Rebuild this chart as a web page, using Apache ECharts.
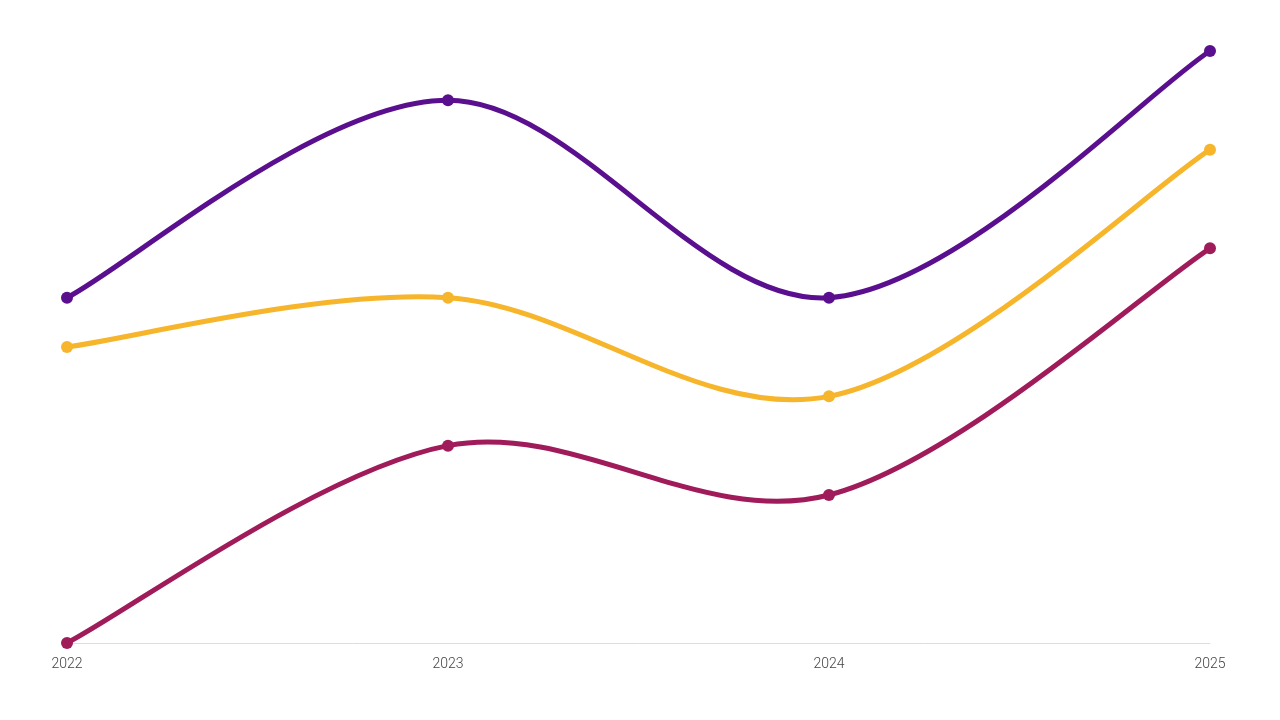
<!DOCTYPE html>
<html>
<head>
<meta charset="utf-8">
<script src="https://cdn.jsdelivr.net/npm/echarts@6/dist/echarts.min.js"></script>
<style>html,body{margin:0;padding:0;background:#fff}#c{width:1280px;height:720px}</style>
</head>
<body>
<div id="c"></div>
<script>
const categories = ['2022', '2023', '2024', '2025'];
const seriesA = [7, 11, 7, 12];
const seriesB = [6, 7, 5, 10];
const seriesC = [0, 4, 3, 8];
const colors = ['#5a0f8f', '#f6b52b', '#a01b5a'];

const chart = echarts.init(document.getElementById('c'));

// Catmull-Rom (cardinal, tension 0) curve through the points, via the axes' scales
function curveSeries(values, color) {
  return {
    type: 'custom',
    coordinateSystem: 'cartesian2d',
    data: [[0, values[0]]],
    clip: false,
    silent: true,
    z: 2,
    renderItem: function (params, api) {
      const p = values.map((v, i) => api.coord([i, v]));
      const n = p.length;
      const get = i => p[Math.max(0, Math.min(n - 1, i))];
      const k = 1 / 6;
      let d = 'M' + p[0][0] + ',' + p[0][1];
      for (let i = 0; i < n - 1; i++) {
        const p0 = get(i - 1), p1 = get(i), p2 = get(i + 1), p3 = get(i + 2);
        const c1x = p1[0] + k * (p2[0] - p0[0]);
        const c1y = p1[1] + k * (p2[1] - p0[1]);
        const c2x = p2[0] - k * (p3[0] - p1[0]);
        const c2y = p2[1] - k * (p3[1] - p1[1]);
        d += 'C' + c1x + ',' + c1y + ',' + c2x + ',' + c2y + ',' + p2[0] + ',' + p2[1];
      }
      return {
        type: 'path',
        shape: { pathData: d },
        style: { fill: 'none', stroke: color, lineWidth: 5, lineCap: 'round', lineJoin: 'round' }
      };
    }
  };
}
function dotSeries(values, color) {
  return {
    type: 'line', data: values,
    symbol: 'circle', symbolSize: 12,
    showSymbol: true,
    lineStyle: { width: 0, opacity: 0 },
    itemStyle: { color },
    z: 3
  };
}
chart.setOption({
  animation: false,
  grid: { left: 67, right: 70, top: 51, bottom: 77 },
  xAxis: {
    type: 'category', data: categories, boundaryGap: false,
    axisLine: { lineStyle: { color: '#dddddd', width: 1 } },
    axisTick: { show: false },
    axisLabel: { color: '#444', fontFamily: 'Roboto', fontWeight: 300, fontSize: 14, margin: 14 }
  },
  yAxis: {
    type: 'value', min: 0, max: 12, show: false,
    splitLine: { show: false }
  },
  series: [
    curveSeries(seriesA, colors[0]),
    curveSeries(seriesB, colors[1]),
    curveSeries(seriesC, colors[2]),
    dotSeries(seriesA, colors[0]),
    dotSeries(seriesB, colors[1]),
    dotSeries(seriesC, colors[2])
  ]
});
</script>
</body>
</html>
